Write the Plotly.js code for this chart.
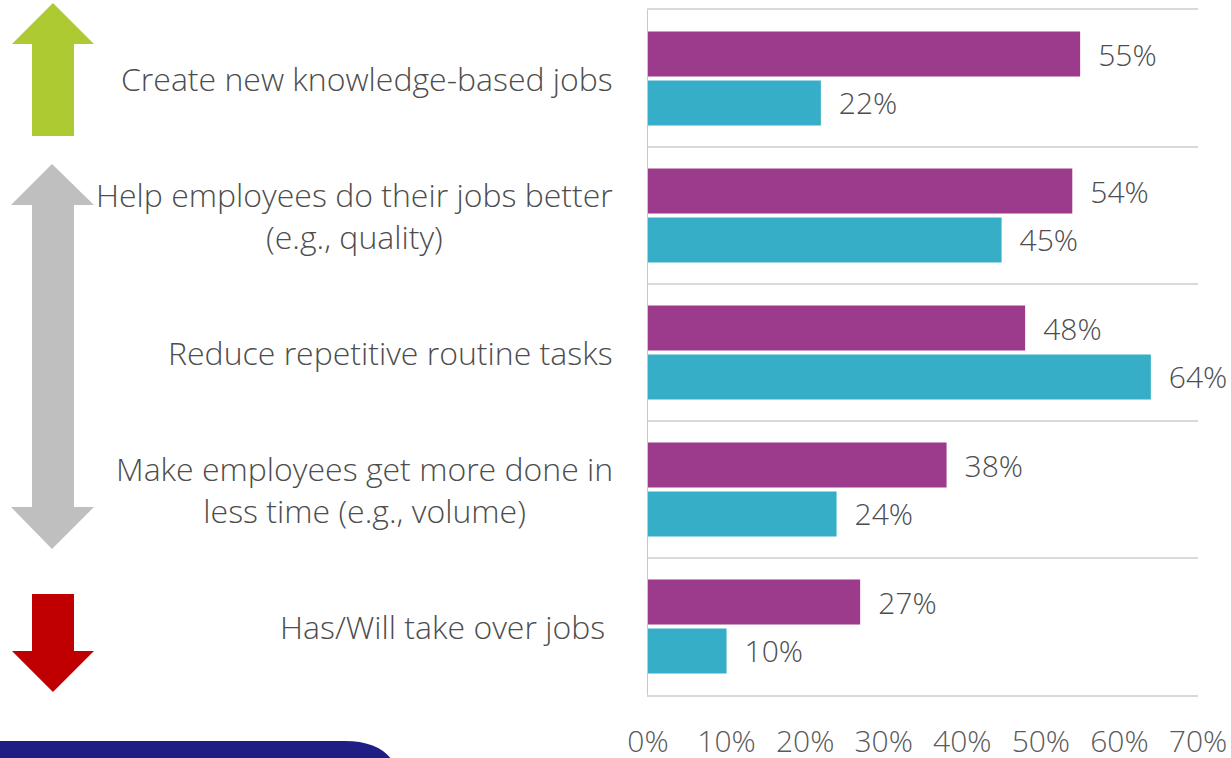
<!DOCTYPE html>
<html>
<head>
<meta charset="utf-8">
<script src="https://cdn.plot.ly/plotly-3.0.1.min.js"></script>
<style>html,body{margin:0;padding:0;background:#fff;}#chart{width:1231px;height:758px;}</style>
</head>
<body>
<div id="chart"></div>
<script>
// ---- data ----
const categories = [
  "Create new knowledge-based jobs",
  "Help employees do their jobs better (e.g., quality)",
  "Reduce repetitive routine tasks",
  "Make employees get more done in less time (e.g., volume)",
  "Has/Will take over jobs"
];
const labelLines = [
  ["Create new knowledge-based jobs"],
  ["Help employees do their jobs better", "(e.g., quality)"],
  ["Reduce repetitive routine tasks"],
  ["Make employees get more done in", "less time (e.g., volume)"],
  ["Has/Will take over jobs\u00a0"]
];
const seriesPurple = [55, 54, 48, 38, 27];
const seriesCyan   = [22, 45, 64, 24, 10];
const xTickVals = [0, 10, 20, 30, 40, 50, 60, 70];
const xTickText = ["0%", "10%", "20%", "30%", "40%", "50%", "60%", "70%"];

// ---- styling ----
const FONT = '"Open Sans", "Segoe UI", sans-serif';
const TXT = '#4d4d4d';
const LABEL_SIZE = 32;
const W = 1231, H = 758;
const M = {l: 648, r: 33, t: 10, b: 63};
const PW = W - M.l - M.r, PH = H - M.t - M.b;
// pixel -> paper helpers for decorative shapes
const px = X => (X - M.l) / PW;
const py = Y => (H - M.b - Y) / PH;
function poly(pts) {
  return 'M' + pts.map(p => px(p[0]).toFixed(5) + ',' + py(p[1]).toFixed(5)).join(' L') + ' Z';
}

const valueFont = {family: FONT, size: 30, color: TXT, weight: 300};
const traces = [
  {type: 'bar', orientation: 'h', y: categories, x: seriesPurple,
   text: seriesPurple.map(v => v + '%'),
   marker: {color: '#9C3B8B'}, texttemplate: '\u2002%{text}', textposition: 'outside',
   textfont: valueFont, constraintext: 'none', cliponaxis: false, hoverinfo: 'skip'},
  {type: 'bar', orientation: 'h', y: categories, x: seriesCyan,
   text: seriesCyan.map(v => v + '%'),
   marker: {color: '#36AEC7'}, texttemplate: '\u2002%{text}', textposition: 'outside',
   textfont: valueFont, constraintext: 'none', cliponaxis: false, hoverinfo: 'skip'}
];

const annotations = labelLines.map((lines, i) => ({
  xref: 'paper', yref: 'y', x: 0, y: categories[i],
  xanchor: 'right', yanchor: 'middle', xshift: -33,
  align: 'center',
  text: lines.join('<br>'), showarrow: false,
  font: {family: FONT, size: LABEL_SIZE, color: TXT, weight: 300}
}));

const shapes = [
  // green up arrow
  {type: 'path', xref: 'paper', yref: 'paper', line: {width: 0}, fillcolor: '#ADCA33',
   path: poly([[53,3],[94,44],[74,44],[74,136],[32,136],[32,44],[12,44]])},
  // gray double arrow
  {type: 'path', xref: 'paper', yref: 'paper', line: {width: 0}, fillcolor: '#BFBFBF',
   path: poly([[52,164],[94,205],[74,205],[74,507],[94,507],[52,549],[11,507],[32,507],[32,205],[11,205]])},
  // red down arrow
  {type: 'path', xref: 'paper', yref: 'paper', line: {width: 0}, fillcolor: '#C00000',
   path: poly([[32,594],[74,594],[74,651],[94,651],[53,692],[12,651],[32,651]])},
  // bottom-left navy band
  {type: 'path', xref: 'paper', yref: 'paper', line: {width: 0}, fillcolor: '#1E1E85',
   path: 'M' + px(0) + ',' + py(741) + ' L' + px(345) + ',' + py(741) +
         ' Q' + px(378) + ',' + py(741) + ' ' + px(392) + ',' + py(760) +
         ' L' + px(0) + ',' + py(760) + ' Z'}
];

const layout = {
  width: W, height: H,
  margin: M,
  paper_bgcolor: '#fff', plot_bgcolor: '#fff',
  showlegend: false,
  barmode: 'group', bargap: 0.285, bargroupgap: 0.082,
  font: {family: FONT, color: TXT},
  xaxis: {range: [0, 70], tickmode: 'array', tickvals: xTickVals, ticktext: xTickText,
          showgrid: false, zeroline: false, showline: true, mirror: true,
          linecolor: '#D9D9D9', linewidth: 2,
          ticks: '', ticklabelstandoff: 19,
          tickfont: {family: FONT, size: 30, color: '#5a5a5a', weight: 300}, fixedrange: true},
  yaxis: {type: 'category', categoryorder: 'array', categoryarray: categories,
          range: [4.5, -0.5], tickson: 'boundaries', showticklabels: false, ticks: '',
          showgrid: true, gridcolor: '#D9D9D9', gridwidth: 2,
          showline: true, linecolor: '#C8C8C8', linewidth: 1.5, zeroline: false, fixedrange: true},
  annotations: annotations,
  shapes: shapes
};

Plotly.newPlot('chart', traces, layout, {displayModeBar: false, staticPlot: true});
</script>
</body>
</html>
